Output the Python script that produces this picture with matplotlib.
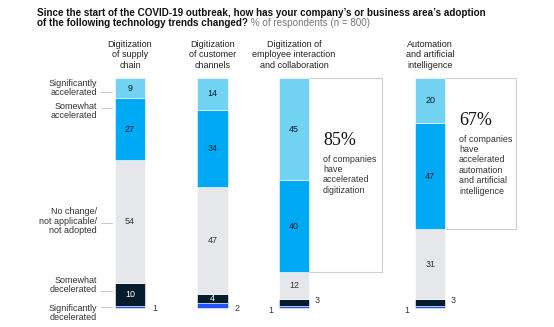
import numpy as np
import matplotlib.pyplot as plt

plt.rcParams['font.family'] = ['Liberation Sans', 'DejaVu Sans']

# data (% of respondents), bottom to top
columns = ['Digitization\nof supply\nchain',
           'Digitization\nof customer\nchannels',
           'Digitization of\nemployee interaction\nand collaboration',
           'Automation\nand artificial\nintelligence']
categories = ['Significantly\ndecelerated', 'Somewhat\ndecelerated',
              'No change/\nnot applicable/\nnot adopted',
              'Somewhat\naccelerated', 'Significantly\naccelerated']
sig_dec = [1, 2, 1, 1]
some_dec = [10, 4, 3, 3]
no_change = [54, 47, 12, 31]
some_acc = [27, 34, 40, 47]
sig_acc = [9, 14, 45, 20]
callout_pct = {2: '85%', 3: '67%'}
callout_txt = {2: 'of companies\nhave\naccelerated\ndigitization',
               3: 'of companies\nhave\naccelerated\nautomation\nand artificial\nintelligence'}

colors = ['#2251ff', '#051c2c', '#e5e7ea', '#00a9f4', '#71d2f1']
txt_colors = [None, 'white', '#333333', '#051c2c', '#051c2c']

raw = [sig_dec, some_dec, no_change, some_acc, sig_acc]
series = np.array(raw, dtype=float)
series = series / series.sum(axis=0) * 100  # bars are drawn to full height

xpos = np.array([0, 1.006, 2.0, 3.66])
w = 0.366

fig = plt.figure(figsize=(5.54, 3.27), dpi=100)
ax = fig.add_axes([0, 0, 1, 1])
ax.set_xlim(-1.585, 5.17)
ax.set_ylim(-8.26, 133.9)
ax.axis('off')

bottom = np.zeros(4)
for k in range(5):
    ax.bar(xpos, series[k], w, bottom=bottom, color=colors[k],
           edgecolor='white', linewidth=0.4, zorder=3)
    if txt_colors[k] is not None:
        for i in range(4):
            if series[k][i] > 3:
                ax.text(xpos[i], bottom[i] + series[k][i] / 2, str(raw[k][i]),
                        ha='center', va='center', fontsize=6.4,
                        color=txt_colors[k], zorder=4)
    bottom += series[k]

# small values outside the bars
gray = '#333333'
for i in (0, 1):
    ax.text(xpos[i] + w / 2 + 0.09, 0.0, str(sig_dec[i]), fontsize=6.4,
            color=gray, va='center')
for i in (2, 3):
    ax.text(xpos[i] + w / 2 + 0.07, series[0][i] + series[1][i] / 2 + 0.8,
            str(some_dec[i]), fontsize=6.4, color=gray, va='center')
    ax.text(xpos[i] - w / 2 - 0.07, -1.0, str(sig_dec[i]), fontsize=6.4,
            color=gray, va='center', ha='right')

# column titles
for i, c in enumerate(columns):
    ax.text(xpos[i], 110, c, ha='center', va='center', fontsize=6.5,
            color='#222222', linespacing=1.15)

# category labels with leader lines
label_y = [-2.2, 10.0, 37.8, 85.7, 95.6]
leader_y = [0.4, 7.4, 37.0, 87.0, 93.9]
for k in range(5):
    ax.text(-0.40, label_y[k], categories[k], ha='right', va='center',
            fontsize=6.5, color='#333333', linespacing=1.1)
    ax.plot([-0.354, -0.22], [leader_y[k], leader_y[k]], color='#c8c8c8', lw=0.7)

# callout boxes
box_right = {2: 3.073, 3: 4.707}
for i in (2, 3):
    b = series[0][i] + series[1][i] + series[2][i]
    x0 = xpos[i] + w / 2
    ax.plot([x0, box_right[i], box_right[i], x0], [100, 100, b, b],
            color='#cfcfcf', lw=0.8, zorder=2)
    tx = x0 + 0.17
    top = 73 if i == 2 else 81.7
    ax.text(tx, top, callout_pct[i], fontsize=13, family='Liberation Serif',
            color='#111111', va='center')
    ax.text(tx, top - 6.3, callout_txt[i], fontsize=6.4, color='#333333',
            va='top', linespacing=1.2)

# main title
fig.text(0.067, 1 - 12.5 / 327,
         "Since the start of the COVID-19 outbreak, how has your company\u2019s or business area\u2019s adoption",
         fontsize=7.1, weight='bold', color='#111111', va='center')
t2 = fig.text(0.067, 1 - 22.5 / 327, "of the following technology trends changed?",
              fontsize=7.1, weight='bold', color='#111111', va='center')
ax.annotate(" % of respondents (n = 800)", xy=(1, 0.5), xycoords=t2,
            va='center', ha='left', fontsize=7.1, color='#777777')

fig.savefig('out.png', dpi=100, facecolor='white')
